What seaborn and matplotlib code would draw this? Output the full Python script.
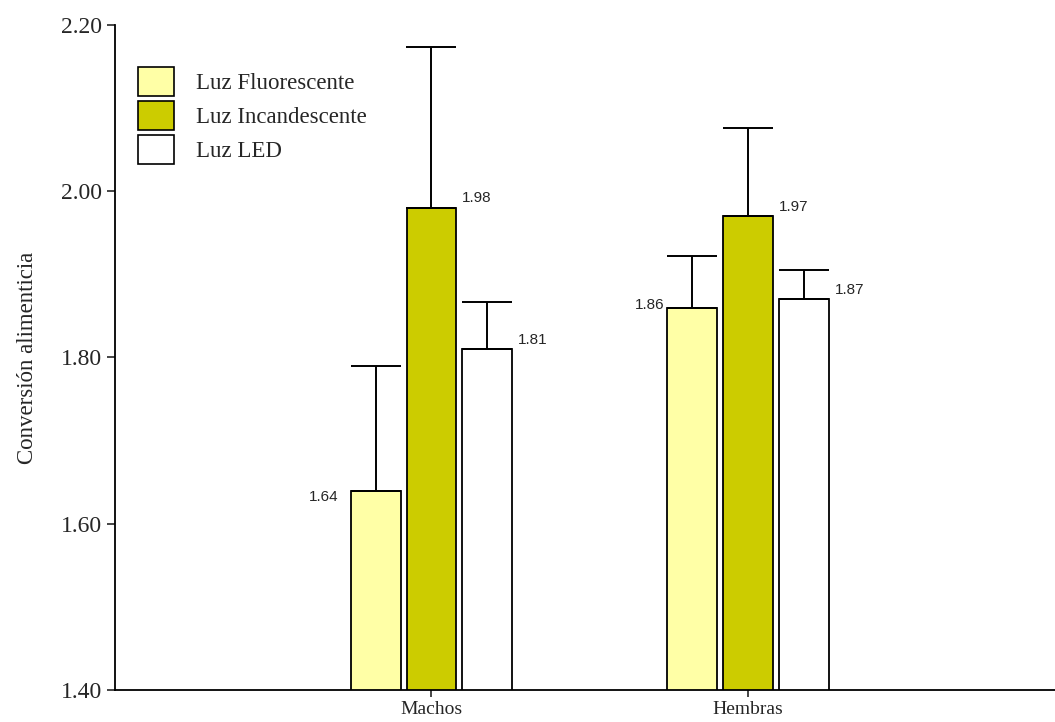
import numpy as np
import pandas as pd
import matplotlib
matplotlib.use("Agg")
import matplotlib.pyplot as plt
from matplotlib.patches import Patch
import seaborn as sns

# Feed conversion by sex and lighting type (mean and SD)
sexos = ["Machos", "Hembras"]
luces = ["Luz Fluorescente", "Luz Incandescente", "Luz LED"]
fluorescente = [1.64, 1.86]
incandescente = [1.98, 1.97]
led = [1.81, 1.87]
de_fluorescente = [0.15, 0.062]
de_incandescente = [0.194, 0.106]
de_led = [0.057, 0.035]
colores = ["#FFFFA6", "#CCCC00", "#FFFFFF"]
yticks = [1.40, 1.60, 1.80, 2.00, 2.20]

medias = {luces[0]: fluorescente, luces[1]: incandescente, luces[2]: led}
desvios = {luces[0]: de_fluorescente, luces[1]: de_incandescente, luces[2]: de_led}

df = pd.DataFrame({
    "sexo": np.repeat([sexos], 3, axis=0).ravel(),
    "luz": np.repeat(luces, len(sexos)),
    "valor": fluorescente + incandescente + led,
})

sns.set_style("ticks")
plt.rcParams["font.family"] = ["Liberation Serif", "DejaVu Serif"]

fig = plt.figure(figsize=(10.55, 7.22), dpi=100)
ax = fig.add_axes([0.109, 0.0443, 0.891, 0.9211])

sns.barplot(data=df, x="sexo", y="valor", hue="luz", order=sexos,
            hue_order=luces, palette=colores, width=0.53, gap=0.107,
            errorbar=None, edgecolor="black", linewidth=1.3, ax=ax,
            saturation=1, legend=False)

# offsets (points) for the value labels left of the fluorescent bars
desplaz_izq = [(-9, -4.5), (-2, 2)]

for luz, cont in zip(luces, ax.containers):
    for i, bar in enumerate(cont):
        x = bar.get_x() + bar.get_width() / 2
        top = bar.get_height() + bar.get_y()
        err = desvios[luz][i]
        ax.errorbar(x, top, yerr=[[0], [err]], fmt="none", ecolor="black",
                    elinewidth=1.4, capsize=18, capthick=1.4, zorder=1)
        texto = f"{medias[luz][i]:.2f}"
        if luz == luces[0]:
            ax.annotate(texto, (bar.get_x(), top), xytext=desplaz_izq[i],
                        textcoords="offset points", ha="right", va="center",
                        fontsize=11, family="Liberation Sans")
        else:
            ax.annotate(texto, (bar.get_x() + bar.get_width(), top),
                        xytext=(4, 4), textcoords="offset points",
                        ha="left", va="baseline", fontsize=11,
                        family="Liberation Sans")

ax.set_xlim(-1.0, 1.97)
ax.set_ylim(1.40, 2.20)
ax.set_yticks(yticks)
ax.set_yticklabels([f"{t:.2f}" for t in yticks])
ax.set_xlabel("")
ax.set_ylabel("Conversión alimenticia", fontsize=16.5, labelpad=17)
ax.tick_params(axis="y", labelsize=17, length=6, width=1.2, direction="out", pad=3)
ax.tick_params(axis="x", labelsize=14, length=5, width=1.2, direction="out", pad=3)
for s in ["top", "right"]:
    ax.spines[s].set_visible(False)
for s in ["left", "bottom"]:
    ax.spines[s].set_linewidth(1.3)
    ax.spines[s].set_color("black")

handles = [Patch(facecolor=c, edgecolor="black", linewidth=1.2) for c in colores]
ax.legend(handles, luces, loc="upper left", bbox_to_anchor=(0.015, 0.95),
          frameon=False, fontsize=16.5, handlelength=1.55, handleheight=1.55,
          labelspacing=0.22, handletextpad=0.95, borderaxespad=0)

fig.savefig("out.png", dpi=100)
